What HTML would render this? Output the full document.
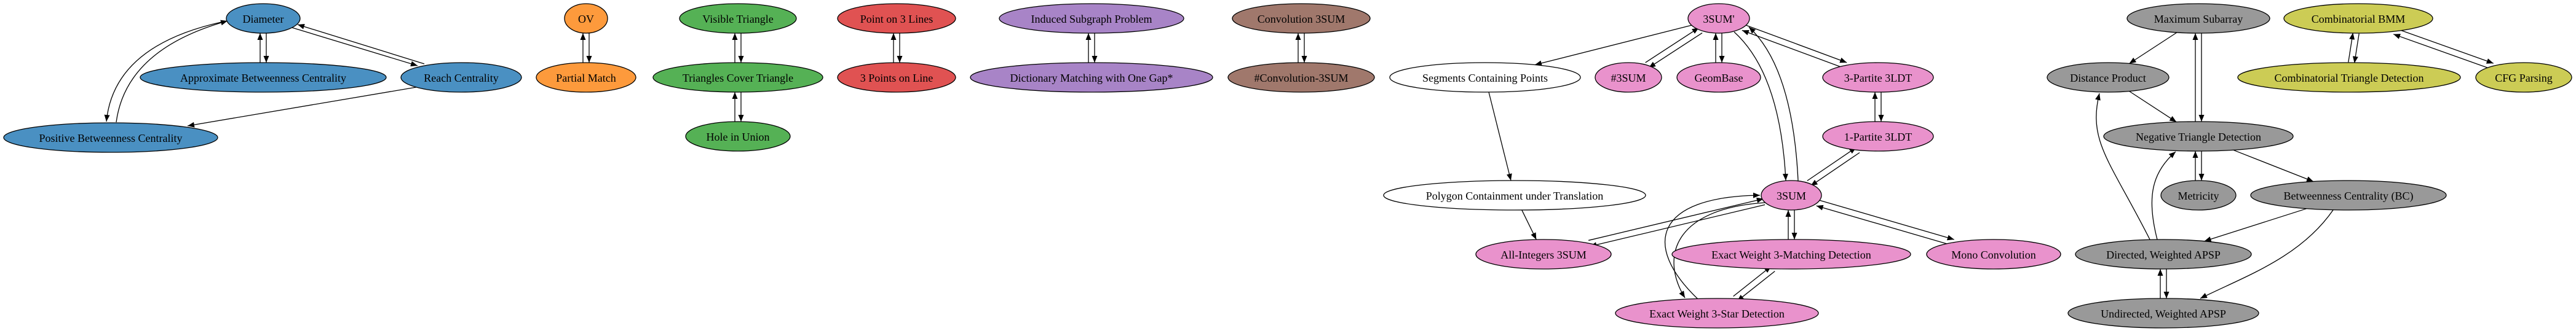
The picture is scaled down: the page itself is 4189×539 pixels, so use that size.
<!DOCTYPE html>
<html><head><meta charset="utf-8"><style>
html,body{margin:0;padding:0;background:#fff;}
svg{display:block;}
text{font-family:"Liberation Serif",serif;font-size:18px;text-anchor:middle;dominant-baseline:central;}
</style></head><body>
<svg id="g" width="4189" height="539" viewBox="0 0 4189 539" xmlns="http://www.w3.org/2000/svg">
<defs><marker id="ah" markerUnits="userSpaceOnUse" markerWidth="12" markerHeight="10" refX="11" refY="4.5" orient="auto"><path d="M0,0 L11,4.5 L0,9 Z" fill="#000"/></marker></defs>
<g id="edges" fill="none" stroke="#000" stroke-width="1.3"></g>
<g id="nodes"></g>
</svg>
<script>
var C={b:"#4a90c2",o:"#fd9a3c",g:"#55b155",r:"#e05252",p:"#a884c7",n:"#a0786c",k:"#e992cc",w:"#ffffff",y:"#cccc55",s:"#999999"};
var N={
dia:[428,30,60,"Diameter","b"],abc:[428,126,200,"Approximate Betweenness Centrality","b"],reach:[750,126,98,"Reach Centrality","b"],pbc:[180,224,174,"Positive Betweenness Centrality","b"],
ov:[953,30,35,"OV","o"],pm:[953,126,81,"Partial Match","o"],
vt:[1200,30,95,"Visible Triangle","g"],tct:[1200,126,138,"Triangles Cover Triangle","g"],hu:[1200,222,85,"Hole in Union","g"],
p3l:[1458,30,96,"Point on 3 Lines","r"],p3p:[1458,126,96,"3 Points on Line","r"],
isp:[1775,30,150,"Induced Subgraph Problem","p"],dm:[1775,126,197,"Dictionary Matching with One Gap*","p"],
c3:[2116,30,112,"Convolution 3SUM","n"],hc3:[2116,126,119,"#Convolution-3SUM","n"],
s3p:[2795,30,50,"3SUM'","k"],seg:[2415,126,155,"Segments Containing Points","w"],h3:[2648,126,54,"#3SUM","k"],gb:[2795,126,68,"GeomBase","k"],
p3:[3054,126,90,"3-Partite 3LDT","k"],p1:[3054,222,90,"1-Partite 3LDT","k"],poly:[2463,318,213,"Polygon Containment under Translation","w"],
s3:[2913,318,49,"3SUM","k"],ai:[2510,414,110,"All-Integers 3SUM","k"],ewm:[2913,414,194,"Exact Weight 3-Matching Detection","k"],mono:[3242,414,109,"Mono Convolution","k"],ews:[2792,510,165,"Exact Weight 3-Star Detection","k"],
ms:[3575,30,116,"Maximum Subarray","s"],bmm:[3835,30,121,"Combinatorial BMM","y"],dp:[3428,126,99,"Distance Product","s"],ctd:[3820,126,181,"Combinatorial Triangle Detection","y"],cfg:[4104,126,78,"CFG Parsing","y"],
nt:[3575,222,154,"Negative Triangle Detection","s"],met:[3575,318,61,"Metricity","s"],bc:[3819,318,159,"Betweenness Centrality (BC)","s"],
da:[3518,414,143,"Directed, Weighted APSP","s"],ua:[3518,510,155,"Undirected, Weighted APSP","s"]};
var RY=24,E=document.getElementById("edges"),G=document.getElementById("nodes"),ns="http://www.w3.org/2000/svg";
function path(d){var p=document.createElementNS(ns,"path");p.setAttribute("d",d);p.setAttribute("marker-end","url(#ah)");E.appendChild(p);}
function bnd(n,dx,dy){var t=1/Math.sqrt((dx/n[2])*(dx/n[2])+(dy/RY)*(dy/RY));return [n[0]+dx*t,n[1]+dy*t];}
function line(a,b,off){a=N[a];b=N[b];var dx=b[0]-a[0],dy=b[1]-a[1],L=Math.hypot(dx,dy),ux=dx/L,uy=dy/L,px=-uy*off,py=ux*off;
var s=bnd(a,dx,dy),e=bnd(b,-dx,-dy);path("M"+(s[0]+px)+","+(s[1]+py)+" L"+(e[0]+px)+","+(e[1]+py));}
function pair(a,b){line(a,b,-5);line(b,a,-5);}
pair("dia","abc");
path("M475,45 L679,107");path("M690,104 L484,40");
path("M677,142 L305,205");
pair("ov","pm");pair("vt","tct");pair("tct","hu");pair("p3l","p3p");pair("isp","dm");pair("c3","hc3");
line("s3p","seg",0);pair("s3p","h3");pair("s3p","gb");pair("s3p","p3");pair("p3","p1");pair("p1","s3");
line("seg","poly",0);line("poly","ai",0);pair("s3","ai");pair("s3","ewm");pair("s3","mono");pair("ewm","ews");
line("ms","dp",0);pair("ms","nt");line("dp","nt",0);pair("nt","met");line("nt","bc",0);line("bc","da",0);pair("da","ua");
pair("bmm","ctd");pair("bmm","cfg");
path("M360,36 Q185,75 173,198");path("M189,199 Q205,80 370,34");
path("M2820,52 Q2895,120 2904,294");path("M2924,294 Q2915,110 2844,44");
path("M2761,487 C2670,400 2690,320 2862,318");path("M2870,330 C2720,340 2700,420 2740,485");
path("M3496,390 C3430,260 3395,230 3414,152");path("M3508,390 C3490,320 3500,280 3538,247");
path("M3794,342 C3740,420 3650,450 3578,486");
for(var k in N){var n=N[k];var e=document.createElementNS(ns,"ellipse");e.setAttribute("cx",n[0]);e.setAttribute("cy",n[1]);e.setAttribute("rx",n[2]);e.setAttribute("ry",RY);e.setAttribute("fill",C[n[4]]);e.setAttribute("stroke","#000");e.setAttribute("stroke-width","1.3");G.appendChild(e);
var t=document.createElementNS(ns,"text");t.setAttribute("x",n[0]);t.setAttribute("y",n[1]+1);t.textContent=n[3];G.appendChild(t);}
</script>
</body></html>
